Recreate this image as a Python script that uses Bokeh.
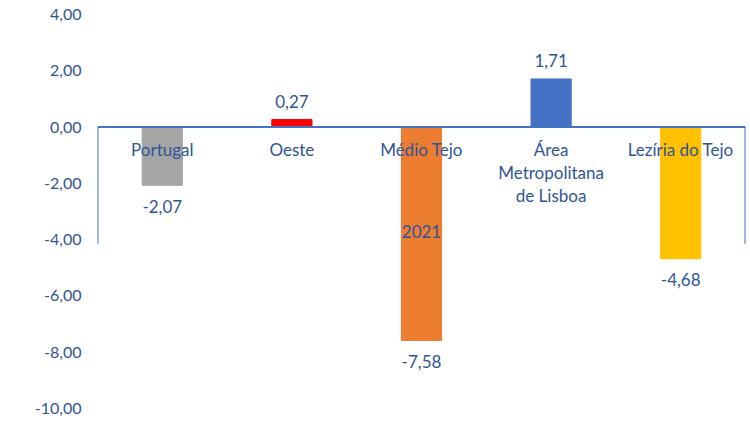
from bokeh.plotting import figure
from bokeh.models import Range1d, FixedTicker, ColumnDataSource, Label
from bokeh.embed import file_html
from bokeh.resources import INLINE
from bokeh.core.properties import value

categories = ["Portugal", "Oeste", "Médio Tejo", "Área\nMetropolitana\nde Lisboa", "Lezíria do Tejo"]
values = [-2.07, 0.27, -7.58, 1.71, -4.68]
colors = ["#A5A5A5", "#FF0000", "#ED7D31", "#4472C4", "#FFC000"]
y_ticks = [-10, -8, -6, -4, -2, 0, 2, 4]
y_tick_labels = ["-10,00", "-8,00", "-6,00", "-4,00", "-2,00", "0,00", "2,00", "4,00"]
series_title = "2021"

FONT = "Lato"
TXT = "#2F5597"
LINE = "#4472C4"

xs = list(range(len(categories)))
labels = [f"{v:.2f}".replace(".", ",") for v in values]
offs = [21 if v < 0 else -18 for v in values]

src = ColumnDataSource(dict(x=xs, top=values, color=colors, cat=categories,
                            lab=labels, off=offs, zero=[0] * len(xs)))

p = figure(width=750, height=442, output_backend="svg", toolbar_location=None,
           x_range=Range1d(-0.5, len(xs) - 0.5), y_range=Range1d(min(y_ticks), max(y_ticks)),
           min_border_left=97, min_border_right=5, min_border_top=14, min_border_bottom=34)
p.outline_line_color = None
p.xgrid.visible = False
p.ygrid.visible = False
p.xaxis.visible = False
p.yaxis.ticker = FixedTicker(ticks=y_ticks)
p.yaxis.major_label_overrides = {t: l for t, l in zip(y_ticks, y_tick_labels)}
p.yaxis.axis_line_color = None
p.yaxis.major_tick_line_color = None
p.yaxis.minor_tick_line_color = None
p.yaxis.major_tick_out = 0
p.yaxis.major_label_standoff = 16
p.yaxis.major_label_text_font = FONT
p.yaxis.major_label_text_font_size = "16px"
p.yaxis.major_label_text_color = TXT

p.vbar(x="x", top="top", bottom=0, width=0.31, color="color", source=src)

# axis box lines
x0, x1 = -0.5, len(xs) - 0.5
p.segment(x0=[x0, x0, x1], y0=[0, 0, 0], x1=[x1, x0, x1], y1=[0, -4.15, -4.15],
          line_color=LINE, line_width=2)

p.text(x="x", y="top", text="lab", y_offset="off", source=src, text_align="center",
       text_baseline="middle", text_font=value(FONT), text_font_size="17px", text_color=TXT)
p.text(x="x", y="zero", text="cat", source=src, text_align="center", text_baseline="top",
       y_offset=12, text_font=value(FONT), text_font_size="17px", text_color=TXT,
       text_line_height=1.1)

p.add_layout(Label(x=2, y=-3.72, text=series_title, text_align="center", text_baseline="middle",
                   text_font=FONT, text_font_size="17px", text_color=TXT))

open("out.html", "w").write(file_html(p, INLINE))
